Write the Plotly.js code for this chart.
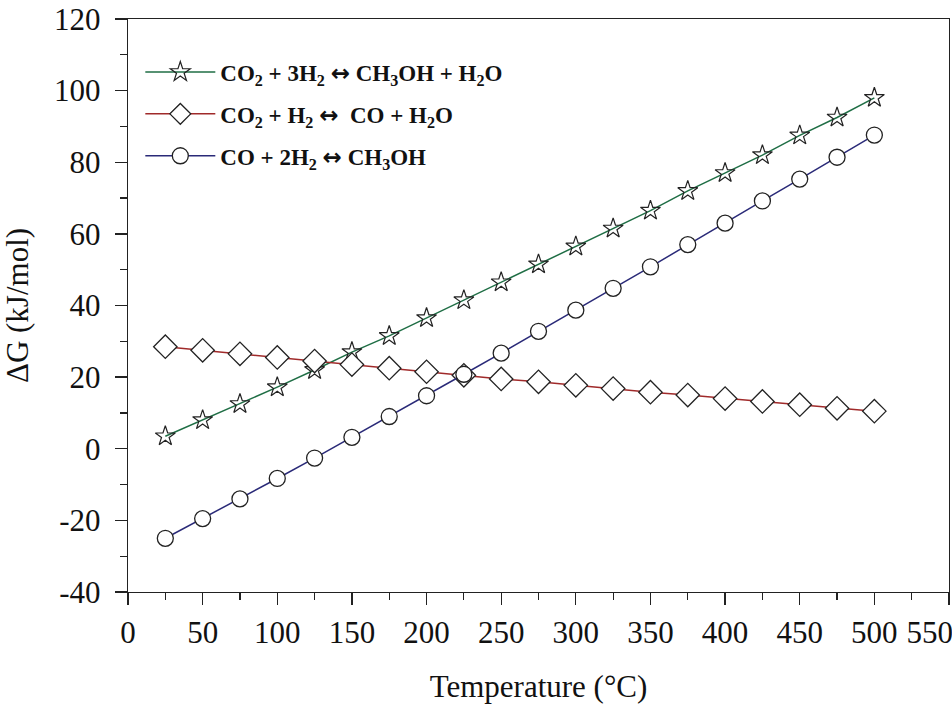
<!DOCTYPE html>
<html>
<head>
<meta charset="utf-8">
<script src="https://cdn.plot.ly/plotly-3.0.1.min.js"></script>
<style>html,body{margin:0;padding:0;background:#fff;}#chart{width:952px;height:709px;}</style>
</head>
<body>
<div id="chart"></div>
<script>
const temperature = [25,50,75,100,125,150,175,200,225,250,275,300,325,350,375,400,425,450,475,500];
const dG_co2_meoh = [3.5,8,12.5,17.2,22,27,31.5,36.5,41.5,46.5,51.5,56.5,61.5,66.5,72,77,82,87.5,92.5,98];
const dG_rwgs = [28.5,27.5,26.5,25.5,24.5,23.5,22.5,21.5,20.5,19.5,18.7,17.7,16.8,15.8,15,14,13.2,12.3,11.3,10.5];
const dG_co_meoh = [-25,-19.5,-14,-8.3,-2.6,3.2,9,14.8,20.8,26.7,32.8,38.7,44.8,50.8,57,63,69.2,75.3,81.4,87.6];
const ARROW = "<span style='font-family:DejaVu Sans'>↔</span>";
const names = [
  "<b>CO<sub>2</sub> + 3H<sub>2</sub> " + ARROW + " CH<sub>3</sub>OH + H<sub>2</sub>O</b>",
  "<b>CO<sub>2</sub> + H<sub>2</sub> " + ARROW + "  CO + H<sub>2</sub>O</b>",
  "<b>CO + 2H<sub>2</sub> " + ARROW + " CH<sub>3</sub>OH</b>"
];
const xTicks = [0,50,100,150,200,250,300,350,400,450,500,550];
const xTickText = ['0','50','100','150','200','250','300','350','400','450','500','550\u00a0\u00a0\u00a0\u00a0\u00a0'];
const yTicks = [-40,-20,0,20,40,60,80,100,120];
const yTickText = ['-40','-20','0','20','40','60','80','100','120'];

const SERIF = 'Liberation Serif';

const traces = [
  {x: temperature, y: dG_co2_meoh, name: names[0], legendgroup: 'a', mode: 'lines+markers',
   line: {color: '#1f6e45', width: 1.5},
   marker: {symbol: 'star-open', size: 15, color: '#222', line: {width: 1.2, color: '#222'}}},
  {x: temperature, y: dG_rwgs, name: names[1], legendgroup: 'b', mode: 'lines+markers',
   line: {color: '#a02a2a', width: 1.5},
   marker: {symbol: 'diamond', size: 18, color: '#fff', line: {width: 1.3, color: '#222'}}},
  {x: temperature, y: dG_co_meoh, name: names[2], legendgroup: 'c', mode: 'lines+markers',
   line: {color: '#2a2a78', width: 1.5},
   marker: {symbol: 'circle', size: 16, color: '#fff', line: {width: 1.3, color: '#222'}}}
];

const layout = {
  width: 952, height: 709,
  font: {family: SERIF, size: 31, color: '#111'},
  margin: {l: 128, r: 3, t: 19, b: 117},
  paper_bgcolor: '#fff', plot_bgcolor: '#fff',
  showlegend: true,
  legend: {x: 0.015, y: 0.945, xanchor: 'left', yanchor: 'top', bgcolor: 'rgba(0,0,0,0)',
    font: {family: SERIF, size: 23, color: '#111'},
    itemwidth: 70, tracegroupgap: 9},
  xaxis: {
    showgrid: false, zeroline: false, showline: true, linecolor: '#222', linewidth: 1.3,
    mirror: true, ticks: 'outside', ticklen: 12, tickwidth: 1.3, tickcolor: '#222',
    tickfont: {family: SERIF, size: 31, color: '#111'}, ticklabeloverflow: 'allow',
    range: [0, 550], tickmode: 'array', tickvals: xTicks, ticktext: xTickText,
    minor: {dtick: 25, ticks: 'outside', ticklen: 7, tickwidth: 1.2, tickcolor: '#222'},
    title: {text: 'Temperature (°C)', standoff: 26, font: {family: SERIF, size: 31, color: '#111'}}
  },
  yaxis: {
    showgrid: false, zeroline: false, showline: true, linecolor: '#222', linewidth: 1.3,
    mirror: true, ticks: 'outside', ticklen: 12, tickwidth: 1.3, tickcolor: '#222',
    tickfont: {family: SERIF, size: 31, color: '#111'}, ticklabelstandoff: 8,
    range: [-40, 120], tickmode: 'array', tickvals: yTicks, ticktext: yTickText,
    minor: {dtick: 10, ticks: 'outside', ticklen: 7, tickwidth: 1.2, tickcolor: '#222'},
    title: {text: 'ΔG (kJ/mol)', standoff: 16, font: {family: SERIF, size: 31, color: '#111'}}
  }
};

Plotly.newPlot('chart', traces, layout, {displayModeBar: false, staticPlot: true});
</script>
</body>
</html>
